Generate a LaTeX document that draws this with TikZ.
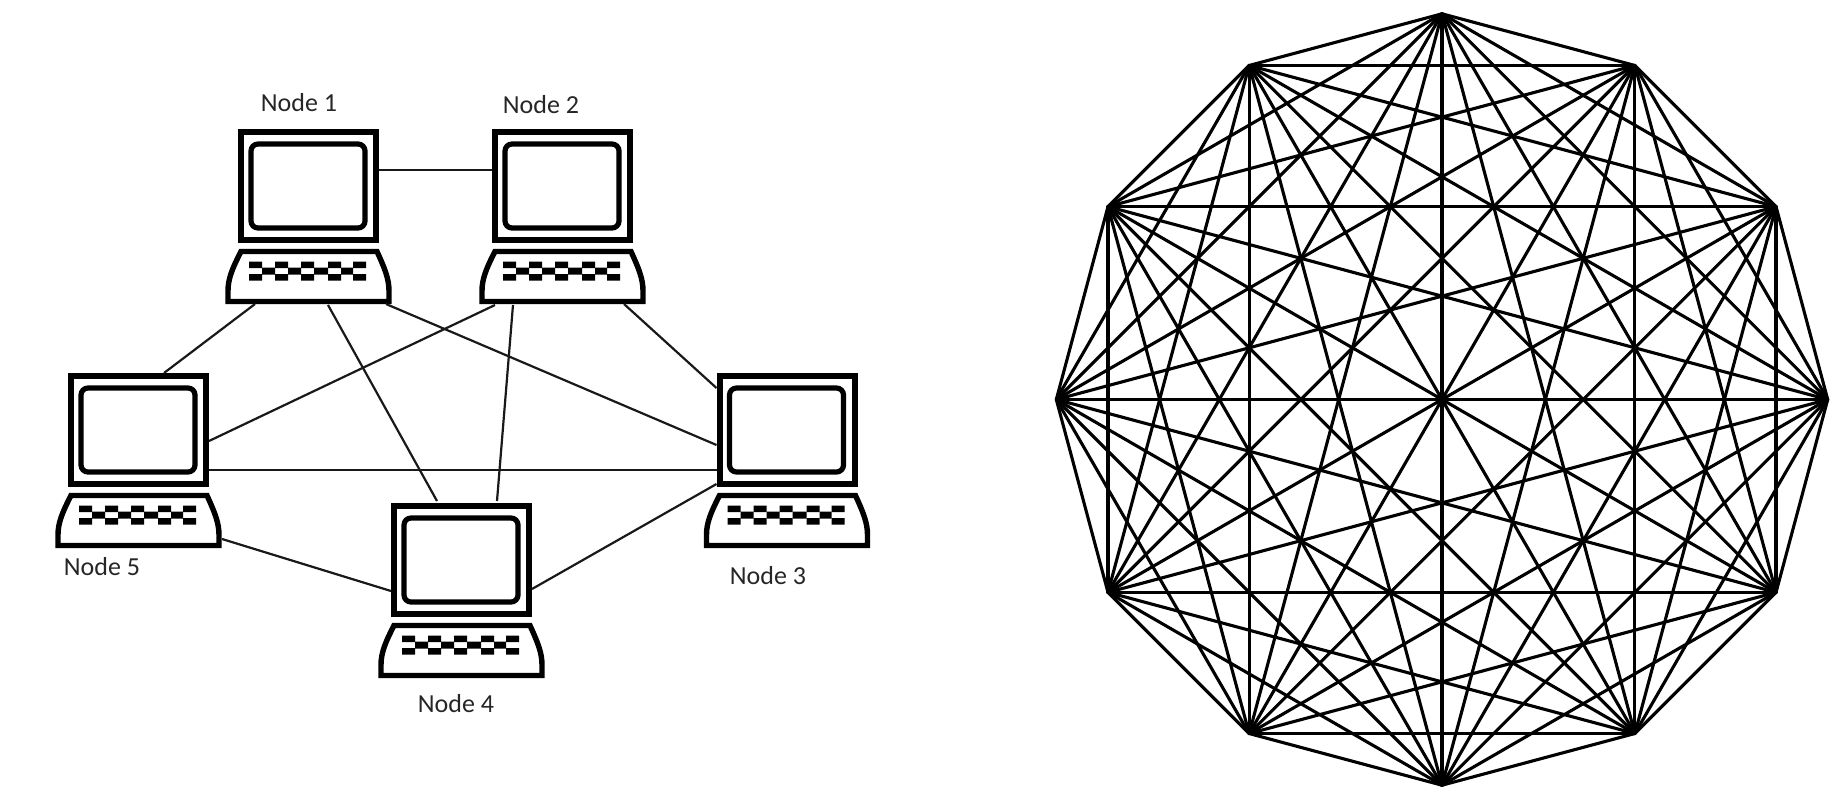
\documentclass[tikz,border=0pt]{standalone}
\usepackage{fontspec}
\setmainfont{Carlito}
\usetikzlibrary{calc}
\tikzset{
  wire/.style={line width=2.2pt,black!90},
  monitor/.style={draw=black,line width=6pt,fill=white,rectangle,minimum width=135pt,minimum height=108pt,inner sep=0pt},
  screen/.style={draw=black,line width=5.2pt,rounded corners=7pt},
  kbdbox/.style={rectangle,minimum width=167pt,minimum height=55pt,inner sep=0pt,outer sep=0pt},
  kbd/.style={draw=black,line width=5.4pt,line join=miter},
  keycap/.style={fill=black},
  lbl/.style={font=\fontsize{26pt}{28pt}\selectfont,text=black!85,inner sep=0pt},
  chord/.style={line width=3.1pt,line cap=round,black}
}
\newcommand{\computer}[3]{%
  \begin{scope}[shift={(#2,#3)}]
    \node[monitor] (m#1) at (70.5,57) {};
    \draw[screen] (13,15) rectangle (127,99);
    \node[kbdbox] (k#1) at (70.5,147.5) {};
    \draw[kbd] (3,122.5) .. controls (-6,140) and (-10,150) .. (-10,162) -- (-10,172.5) -- (151,172.5) -- (151,162) .. controls (151,150) and (147,140) .. (139,122.5) -- cycle;
    \fill[keycap] (11,132.5) rectangle (24,139) (37,132.5) rectangle (50,139) (63,132.5) rectangle (76,139) (90,132.5) rectangle (103,139) (115,132.5) rectangle (128,139);
    \fill[keycap] (11,145) rectangle (24,151.5) (37,145) rectangle (50,151.5) (63,145) rectangle (76,151.5) (90,145) rectangle (103,151.5) (115,145) rectangle (128,151.5);
    \fill[keycap] (24,138.5) rectangle (37,145.5) (50,138.5) rectangle (63,145.5) (76,138.5) rectangle (90,145.5) (103,138.5) rectangle (115,145.5);
  \end{scope}}
\begin{document}
\begin{tikzpicture}[x=1pt,y=-1pt]
\useasboundingbox (0,0) rectangle (1842,800);
\fill[white] (0,0) rectangle (1842,800);
\computer{1}{238}{129}
\computer{2}{492}{129}
\computer{3}{716.5}{373}
\computer{4}{391}{503}
\computer{5}{68}{373}
\node[lbl] (t1) at (299,103) {Node 1};
\node[lbl] (t2) at (541,104.5) {Node 2};
\node[lbl] (t3) at (768,576) {Node 3};
\node[lbl] (t4) at (456,703.5) {Node 4};
\node[lbl] (t5) at (102,567) {Node 5};
\draw[wire] ($(m1.north east)+(0,41)$) -- ($(m2.north west)+(0,41)$);
\draw[wire] ($(k1.south west)+(30,0)$) -- ($(m5.north west)+(96,0)$);
\draw[wire] ($(k1.south west)+(103,1)$) -- ($(m4.north west)+(46,-2)$);
\draw[wire] ($(k1.south west)+(161,0)$) -- ($(m3.north west)+(0,72)$);
\draw[wire] ($(k2.south west)+(16,1)$) -- ($(m5.north west)+(141,68)$);
\draw[wire] ($(k2.south west)+(34,1)$) -- ($(m4.north west)+(106,-2)$);
\draw[wire] ($(k2.south west)+(145,0)$) -- ($(m3.north west)+(0,15)$);
\draw[wire] ($(m5.north west)+(141,97)$) -- ($(m3.north west)+(0,97)$);
\draw[wire] ($(k5.south west)+(167,-9)$) -- ($(m4.north west)+(0,88)$);
\draw[wire] ($(m4.north west)+(141,86)$) -- ($(m3.north west)+(0,111)$);
\foreach \i in {0,...,11} \coordinate (p\i) at ({1442+385.7*cos(30*\i)},{399.5+385.7*sin(30*\i)});
\foreach \i in {0,...,10} {
  \pgfmathtruncatemacro{\nxt}{\i+1}
  \foreach \j in {\nxt,...,11} \draw[chord] (p\i) -- (p\j);
}
\end{tikzpicture}
\end{document}
